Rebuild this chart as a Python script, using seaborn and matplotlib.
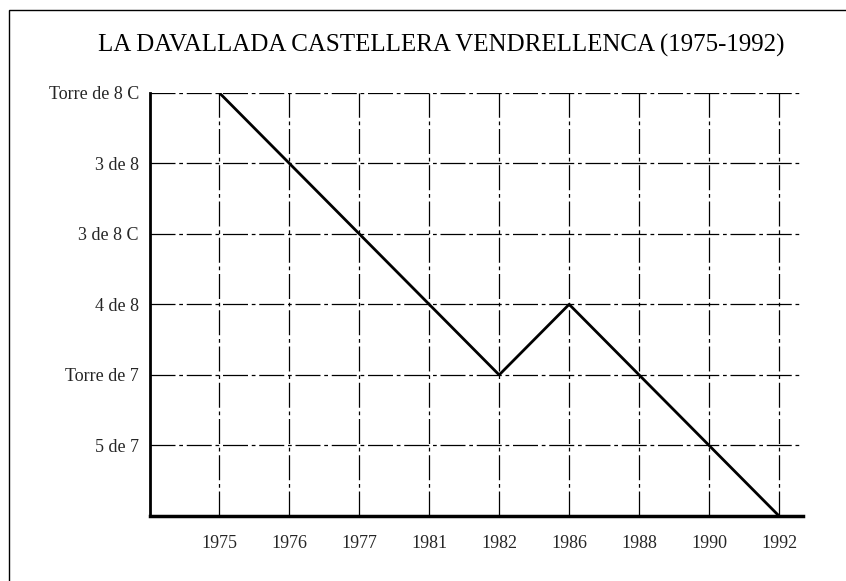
import matplotlib
matplotlib.use("Agg")
import matplotlib.pyplot as plt
import seaborn as sns
import pandas as pd
import numpy as np
from matplotlib.patches import Rectangle

# Dades del gràfic
years = ["1975", "1976", "1977", "1981", "1982", "1986", "1988", "1990", "1992"]
rank = [6, 5, 4, 3, 2, 3, 2, 1, 0]
level_labels = ["", "5 de 7", "Torre de 7", "4 de 8", "3 de 8 C", "3 de 8", "Torre de 8 C"]
title = "LA DAVALLADA CASTELLERA VENDRELLENCA (1975-1992)"

sns.set_theme(style="white")
plt.rcParams['font.family'] = ['Liberation Serif', 'DejaVu Serif']

df = pd.DataFrame({"pos": np.arange(len(years)), "rank": rank})

fig = plt.figure(figsize=(8.46, 5.81), dpi=100)
ax = fig.add_axes([0.1773, 0.1119, 0.949 - 0.1773, 0.8404 - 0.1119])

# graella de punts i ratlles
grid_style = dict(color="black", linewidth=0.9, linestyle=(0, (20, 3, 3, 3)))
for i in range(len(years)):
    ax.axvline(i, **grid_style, zorder=1)
for j in range(1, len(level_labels)):
    ax.axhline(j, **grid_style, zorder=1)

sns.lineplot(data=df, x="pos", y="rank", color="black", linewidth=2.0, ax=ax, zorder=3)

ax.set_xlim(-0.99, 8.34)
ax.set_ylim(0, 6)
ax.set_xticks(range(len(years)))
ax.set_xticklabels(years, fontsize=13)
ax.set_yticks(range(len(level_labels)))
ax.set_yticklabels(level_labels, fontsize=13)
ax.tick_params(axis="x", length=0, pad=14)
ax.tick_params(axis="y", length=0, pad=8)
ax.set_xlabel("")
ax.set_ylabel("")

for side in ["top", "right"]:
    ax.spines[side].set_visible(False)
ax.spines["left"].set_linewidth(2.0)
ax.spines["bottom"].set_linewidth(2.5)
ax.spines["left"].set_color("black")
ax.spines["bottom"].set_color("black")

fig.text(0.522, 0.922, title, ha="center", va="center", fontsize=18, color="black")

# marc exterior
fig.add_artist(Rectangle((0.011, -0.05), 1.05, 0.033 + 1.0, transform=fig.transFigure,
                         fill=False, edgecolor="black", linewidth=1.0))

fig.savefig("out.png", dpi=100)
plt.close(fig)
